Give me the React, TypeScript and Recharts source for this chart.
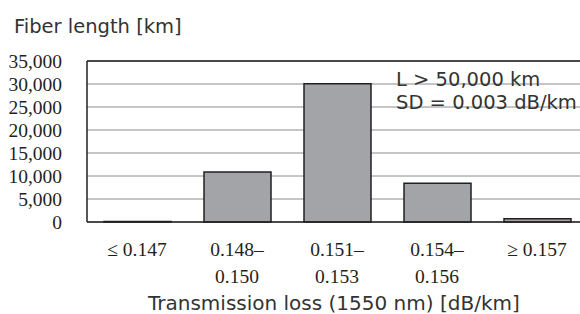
import React from 'react';
import {
  BarChart,
  Bar,
  XAxis,
  YAxis,
  CartesianGrid,
  ReferenceLine,
} from 'recharts';

// loss bins (two-line labels split on \n)
const categories = ['≤ 0.147', '0.148–\n0.150', '0.151–\n0.153', '0.154–\n0.156', '≥ 0.157'];
const fiberLength = [100, 10850, 30050, 8450, 700];
const yTicks = [0, 5000, 10000, 15000, 20000, 25000, 30000, 35000];

const data = categories.map((c, i) => ({ bin: c, km: fiberLength[i] }));

const SANS = '"DejaVu Sans", Verdana, sans-serif';
const SERIF = '"Liberation Serif", "Times New Roman", serif';
const INK = '#231f20';

function BinTick(props: any) {
  const { x, y, payload } = props;
  const lines = String(payload.value).split('\n');
  return (
    <text x={x} y={y} textAnchor="middle" fontFamily={SERIF} fontSize={19.5} fill={INK}>
      {lines.map((l, i) => (
        <tspan key={i} x={x} dy={i === 0 ? 26 : 27}>
          {l}
        </tspan>
      ))}
    </text>
  );
}

export default function App() {
  return (
    <div
      style={{
        position: 'absolute',
        left: 0,
        top: 0,
        width: 580,
        height: 314,
        overflow: 'hidden',
        background: '#fff',
      }}
    >
      <div
        style={{
          position: 'absolute',
          left: 14,
          top: 16,
          fontFamily: SANS,
          fontSize: 19.5,
          color: '#333',
          lineHeight: '22px',
          whiteSpace: 'nowrap',
        }}
      >
        Fiber length [km]
      </div>

      <BarChart
        width={600}
        height={314}
        data={data}
        margin={{ top: 61, right: 13, left: 0, bottom: 32 }}
      >
        <CartesianGrid vertical={false} stroke="#8c8c8c" strokeWidth={1} />
        <XAxis
          dataKey="bin"
          interval={0}
          tickLine={false}
          axisLine={{ stroke: INK, strokeWidth: 1.5 }}
          tick={<BinTick />}
          height={60}
        />
        <YAxis
          width={87}
          domain={[0, 35000]}
          ticks={yTicks}
          tickLine={false}
          tickSize={0}
          tickMargin={25}
          axisLine={{ stroke: INK, strokeWidth: 1.5 }}
          tick={{ fontFamily: SERIF, fontSize: 19.5, fill: INK }}
          tickFormatter={(v: number) => v.toLocaleString('en-US')}
          interval={0}
        />
        <ReferenceLine y={35000} stroke={INK} strokeWidth={1.5} />
        <Bar
          dataKey="km"
          fill="#a3a4a8"
          stroke={INK}
          strokeWidth={1.5}
          barSize={67}
          isAnimationActive={false}
        />
      </BarChart>

      <div
        style={{
          position: 'absolute',
          left: 396,
          top: 68,
          fontFamily: SANS,
          fontSize: 19.5,
          color: '#333',
          lineHeight: '23px',
          whiteSpace: 'nowrap',
        }}
      >
        L &gt; 50,000 km
        <br />
        SD = 0.003 dB/km
      </div>

      <div
        style={{
          position: 'absolute',
          left: 148,
          top: 292,
          fontFamily: SANS,
          fontSize: 20,
          color: '#333',
          lineHeight: '22px',
          whiteSpace: 'nowrap',
        }}
      >
        Transmission loss (1550 nm) [dB/km]
      </div>
    </div>
  );
}
